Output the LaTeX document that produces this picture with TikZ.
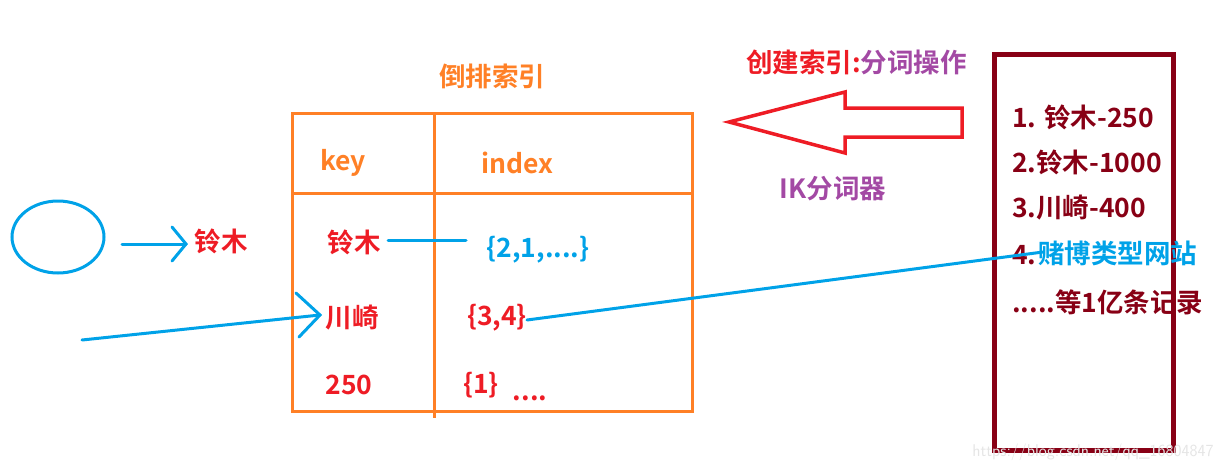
\documentclass[tikz,border=0pt]{standalone}
\usepackage{fontspec}
\setmainfont{Noto Sans CJK SC Bold}
\begin{document}
\begin{tikzpicture}[x=1pt,y=-1pt,
  t/.style={font=\fontsize{26.5}{26.5}\selectfont,inner sep=0pt},
  orng/.style={draw=myor,line width=3pt},
  bl/.style={draw=mybl,line width=3pt,line cap=round}]
\definecolor{myor}{HTML}{FF8026}
\definecolor{myred}{HTML}{EE1C25}
\definecolor{mybl}{HTML}{00A2E8}
\definecolor{mypu}{HTML}{A349A4}
\definecolor{mydr}{HTML}{880015}
\useasboundingbox (0,0) rectangle (1223,471);
% table
\draw[orng] (292,113) rectangle (692,411);
\draw[orng] (292,193) -- (692,193);
\draw[orng] (434,113) -- (434,418);
\node[t,text=myor] (title) at (492,76) {倒排索引};
\node[t,text=myor] (key) at (343,163) {key};
\node[t,text=myor] (idx) at (517,163) {index};
\node[t,text=myred] (k1) at (354,242) {铃木};
\node[t,text=mybl] (v1) at (538,250) {\{2,1,....\}};
\node[t,text=myred] (k2) at (352,318) {川崎};
\node[t,text=myred] (v2) at (497,318) {\{3,4\}};
\node[t,text=myred] (k3) at (349,385) {250};
\node[t,text=myred] (v3) at (481,385) {\{1\}};
\node[t,text=myred] (dots) at (530,398) {....};
% left
\draw[draw=mybl,line width=3pt] (58,237) ellipse (46 and 36);
\node[t,text=myred] (lw) at (221,241) {铃木};
\coordinate (a1) at (122,244);
\coordinate (a2) at (186,244);
\draw[bl] (a1) -- (a2);
\draw[bl] (172,227) -- (a2) -- (172,261);
\coordinate (b1) at (82,340);
\coordinate (b2) at (320,315);
\draw[bl] (b1) -- (b2);
\draw[bl] (296,293) -- (b2) -- (299,337);
\coordinate (c1) at (388,240);
\coordinate (c2) at (466,240);
\draw[bl] (c1) -- (c2);
% right box
\draw[draw=mydr,line width=5pt] (994,54) rectangle (1173,450);
\node[t,text=mydr,anchor=west] (r1) at (1012,117) {1. 铃木-250};
\node[t,text=mydr,anchor=west] (r2) at (1012,162) {2.铃木-1000};
\node[t,text=mydr,anchor=west] (r3) at (1012,208) {3.川崎-400};
\node[t,text=mydr,anchor=west] (r4) at (1012,255) {4.};
\node[t,text=mydr,anchor=west] (r5) at (1012,302) {.....等1亿条记录};
\coordinate (d1) at (527,320);
\coordinate (d2) at (1043,252);
\draw[bl] (d1) -- (d2);
\node[t,text=mybl,anchor=west] (r4b) at (1038,253) {赌博类型网站};
% big arrow
\draw[draw=myred,line width=3.5pt,line join=miter]
  (729,122) -- (845,92) -- (845,108) -- (962,108) -- (962,137) -- (845,137) -- (845,153) -- cycle;
\node[t,anchor=west] (op) at (746,62) {\textcolor{myred}{创建索引:}\textcolor{mypu}{分词操作}};
\node[t,text=mypu] (ik) at (833,189) {IK分词器};
\node[inner sep=0pt,text=black!10,font=\fontsize{17}{17}\selectfont\sffamily] (wm) at (1093,452) {https://blog.csdn.net/qq\_16804847};
\end{tikzpicture}
\end{document}
